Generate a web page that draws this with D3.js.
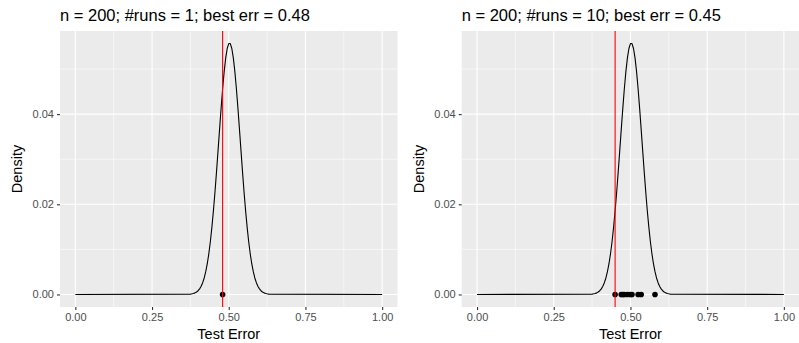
<!DOCTYPE html>
<html>
<head>
<meta charset="utf-8">
<script src="https://cdn.jsdelivr.net/npm/d3@7"></script>
<style>
  html, body { margin: 0; padding: 0; background: #ffffff; }
  svg { display: block; font-family: "Liberation Sans", Arial, sans-serif; }
</style>
</head>
<body>
<svg id="chart" width="799" height="343"></svg>
<script>
// ---- data ----
const panelTitles = [
  "n = 200; #runs = 1; best err = 0.48",
  "n = 200; #runs = 10; best err = 0.45"
];
const curveX = [0,
  0.375, 0.38, 0.385, 0.39, 0.395, 0.40, 0.405, 0.41, 0.415, 0.42, 0.425, 0.43, 0.435,
  0.44, 0.445, 0.45, 0.455, 0.46, 0.465, 0.47, 0.475, 0.48, 0.485, 0.49, 0.495, 0.50,
  0.505, 0.51, 0.515, 0.52, 0.525, 0.53, 0.535, 0.54, 0.545, 0.55, 0.555, 0.56, 0.565,
  0.57, 0.575, 0.58, 0.585, 0.59, 0.595, 0.60, 0.605, 0.61, 0.615, 0.62, 0.625, 0.63,
  1];
const curveDensity = [0,
  0.00008, 0.00014, 0.00022, 0.00035, 0.00055, 0.00083, 0.00124, 0.00182, 0.00261, 0.00366,
  0.00505, 0.00682, 0.00902, 0.01170, 0.01487, 0.01853, 0.02263, 0.02709, 0.03179, 0.03657,
  0.04123, 0.04557, 0.04937, 0.05242, 0.05456, 0.05566,
  0.05566, 0.05456, 0.05242, 0.04937, 0.04557, 0.04123, 0.03657, 0.03179, 0.02709, 0.02263,
  0.01853, 0.01487, 0.01170, 0.00902, 0.00682, 0.00505, 0.00366, 0.00261, 0.00182, 0.00124,
  0.00083, 0.00055, 0.00035, 0.00022, 0.00014, 0.00008,
  0];
const runErrorsLeft = [0.48];
const runErrorsRight = [0.45, 0.47, 0.475, 0.48, 0.49, 0.50, 0.505, 0.525, 0.535, 0.58];
const bestErr = [0.48, 0.45];
const xTicks = [0, 0.25, 0.5, 0.75, 1];
const xMinor = [0.125, 0.375, 0.625, 0.875];
const yTicks = [0, 0.02, 0.04];
const yMinor = [0.01, 0.03, 0.05];

// ---- layout ----
const svg = d3.select("#chart");
const panelW = 337.5, panelH = 276;
const panelX = [60, 461.7];
const panelY = 31;
const runSets = [runErrorsLeft, runErrorsRight];

const yMax = d3.max(curveDensity);
const expand = 0.05;

panelTitles.forEach((title, i) => {
  const g = svg.append("g").attr("transform", `translate(${panelX[i]},${panelY})`);

  const x = d3.scaleLinear().domain([0 - expand, 1 + expand]).range([0, panelW]);
  const y = d3.scaleLinear().domain([-yMax * expand, yMax * (1 + expand)]).range([panelH, 0]);

  g.append("rect").attr("width", panelW).attr("height", panelH).attr("fill", "#EBEBEB");

  // minor grid
  g.selectAll(".xmin").data(xMinor).enter().append("line")
    .attr("x1", d => x(d)).attr("x2", d => x(d)).attr("y1", 0).attr("y2", panelH)
    .attr("stroke", "#fff").attr("stroke-width", 0.55);
  g.selectAll(".ymin").data(yMinor).enter().append("line")
    .attr("y1", d => y(d)).attr("y2", d => y(d)).attr("x1", 0).attr("x2", panelW)
    .attr("stroke", "#fff").attr("stroke-width", 0.55);
  // major grid
  g.selectAll(".xmaj").data(xTicks).enter().append("line")
    .attr("x1", d => x(d)).attr("x2", d => x(d)).attr("y1", 0).attr("y2", panelH)
    .attr("stroke", "#fff").attr("stroke-width", 1.1);
  g.selectAll(".ymaj").data(yTicks).enter().append("line")
    .attr("y1", d => y(d)).attr("y2", d => y(d)).attr("x1", 0).attr("x2", panelW)
    .attr("stroke", "#fff").attr("stroke-width", 1.1);

  // density curve
  const pts = curveX.map((v, k) => [v, curveDensity[k]]);
  g.append("path").datum(pts)
    .attr("d", d3.line().x(d => x(d[0])).y(d => y(d[1])))
    .attr("fill", "none").attr("stroke", "#000").attr("stroke-width", 1.1)
    .attr("stroke-linejoin", "round");

  // run points
  g.selectAll(".pt").data(runSets[i]).enter().append("circle")
    .attr("cx", d => x(d)).attr("cy", y(0)).attr("r", 2.8).attr("fill", "#000");

  // best error line
  g.append("line")
    .attr("x1", x(bestErr[i])).attr("x2", x(bestErr[i])).attr("y1", 0).attr("y2", panelH)
    .attr("stroke", "#FF0000").attr("stroke-width", 1.1);

  // axes
  const xAxis = d3.axisBottom(x).tickValues(xTicks).tickFormat(d3.format(".2f"))
    .tickSize(3).tickPadding(3);
  const xa = g.append("g").attr("transform", `translate(0,${panelH})`).call(xAxis);
  const yAxis = d3.axisLeft(y).tickValues(yTicks).tickFormat(d3.format(".2f"))
    .tickSize(3).tickPadding(3);
  const ya = g.append("g").call(yAxis);
  [xa, ya].forEach(a => {
    a.select(".domain").remove();
    a.selectAll(".tick line").attr("stroke", "#333333").attr("stroke-width", 1.1);
    a.selectAll(".tick text").attr("fill", "#4D4D4D").attr("font-size", "11px")
      .attr("font-family", "Liberation Sans, Arial, sans-serif");
  });

  // titles
  g.append("text").attr("x", 0).attr("y", -10).text(title)
    .attr("font-size", "16.5px").attr("fill", "#000");
  g.append("text").attr("x", panelW / 2).attr("y", panelH + 32)
    .attr("text-anchor", "middle").attr("font-size", "14.5px").attr("fill", "#000")
    .text("Test Error");
  g.append("text")
    .attr("transform", `translate(${-38},${panelH / 2}) rotate(-90)`)
    .attr("text-anchor", "middle").attr("font-size", "14.5px").attr("fill", "#000")
    .text("Density");
});
</script>
</body>
</html>
